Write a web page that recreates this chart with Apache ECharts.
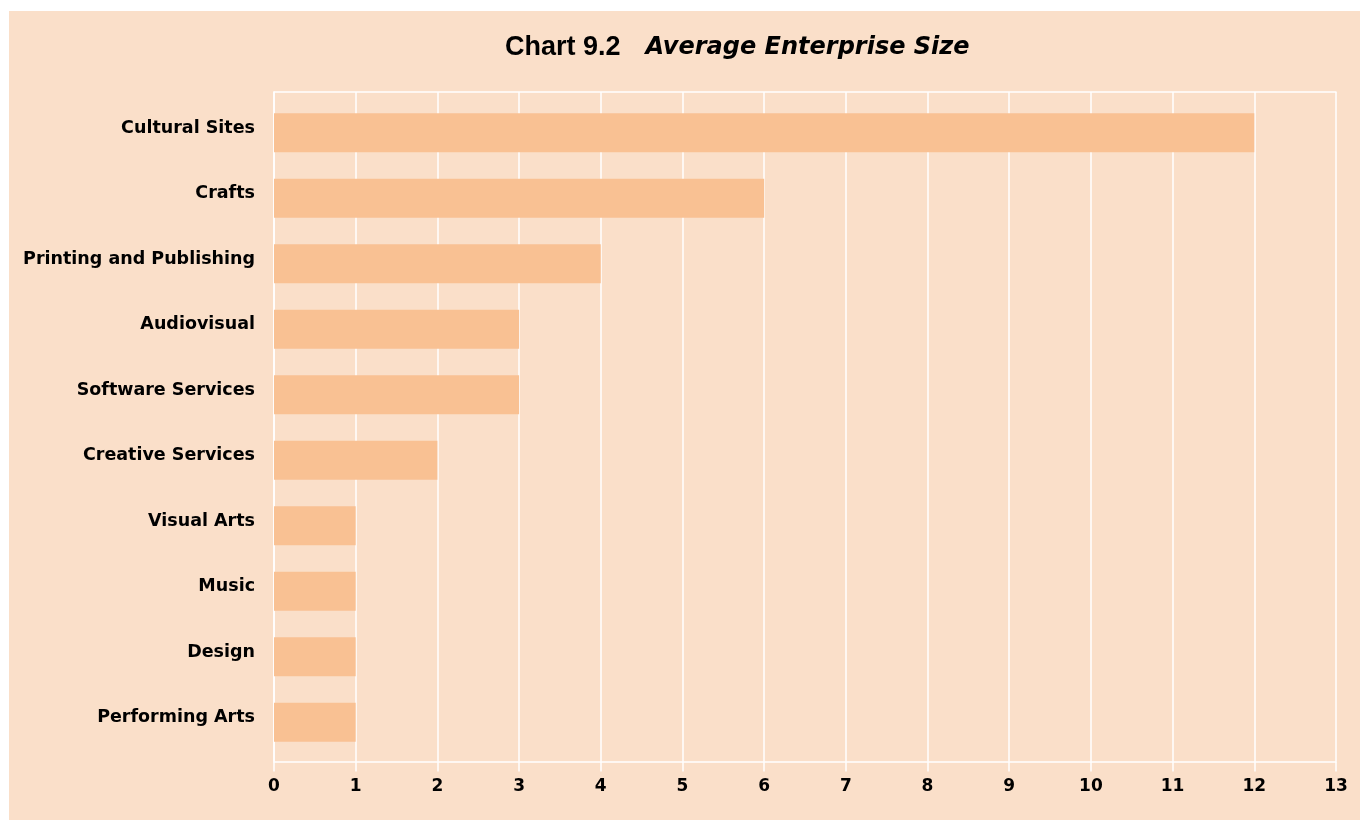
<!DOCTYPE html>
<html>
<head>
<meta charset="utf-8">
<script src="https://cdn.jsdelivr.net/npm/echarts@6/dist/echarts.min.js"></script>
<style>
  html, body { margin: 0; padding: 0; background: #ffffff; }
  #chart { width: 1360px; height: 820px; }
</style>
</head>
<body>
<div id="chart"></div>
<script>
// Sectors, top to bottom
const categories = [
  'Cultural Sites',
  'Crafts',
  'Printing and Publishing',
  'Audiovisual',
  'Software Services',
  'Creative Services',
  'Visual Arts',
  'Music',
  'Design',
  'Performing Arts'
];
// Average enterprise size per sector
const avgSize = [12, 6, 4, 3, 3, 2, 1, 1, 1, 1];
// Horizontal axis range
const xMin = 0;
const xMax = 13;
const xStep = 1;

const PANEL = '#FADFC9';
const BAR = '#F9C193';
const LINE = '#FFFFFF';
const SANS = '"Liberation Sans", Arial, sans-serif';
const WIDE = '"DejaVu Sans", sans-serif';

const chart = echarts.init(document.getElementById('chart'), null, { renderer: 'canvas' });

chart.setOption({
  backgroundColor: '#ffffff',
  animation: false,
  graphic: [
    {
      type: 'rect', z: -10, silent: true,
      shape: { x: 9, y: 11, width: 1360, height: 820 },
      style: { fill: PANEL }
    }
  ],
  title: {
    text: '{a|Chart 9.2}{b|Average Enterprise Size}',
    left: 500,
    top: 29,
    textStyle: {
      rich: {
        a: { fontFamily: SANS, fontSize: 27, fontWeight: 'bold', color: '#000', padding: [0, 25, 0, 0] },
        b: { fontFamily: WIDE, fontSize: 24, fontWeight: 'bold', fontStyle: 'italic', color: '#000' }
      }
    }
  },
  grid: [
    // bars
    { left: 274, right: 24, top: 100, height: 655 },
    // frame, grid lines and value scale
    { left: 274, right: 24, top: 92, height: 669.5 }
  ],
  xAxis: [
    {
      gridIndex: 0, type: 'value', min: xMin, max: xMax, interval: xStep,
      show: false
    },
    {
      gridIndex: 1, type: 'value', min: xMin, max: xMax, interval: xStep,
      position: 'bottom',
      axisLine: { show: true, lineStyle: { color: LINE, width: 1.5 } },
      axisTick: { show: true, length: 10, lineStyle: { color: LINE, width: 1.5 } },
      splitLine: { show: true, lineStyle: { color: LINE, width: 1.5 } },
      axisLabel: {
        margin: 17, color: '#000', fontFamily: WIDE, fontSize: 17, fontWeight: 'bold'
      }
    },
    {
      gridIndex: 1, type: 'value', min: xMin, max: xMax, interval: xStep,
      position: 'top',
      axisLine: { show: true, lineStyle: { color: LINE, width: 1.5 } },
      axisTick: { show: false },
      splitLine: { show: false },
      axisLabel: { show: false }
    }
  ],
  yAxis: [
    {
      gridIndex: 0, type: 'category', data: categories, inverse: true,
      axisLine: { show: false },
      axisTick: { show: false },
      splitLine: { show: false },
      axisLabel: {
        margin: 19, color: '#000', fontFamily: WIDE, fontSize: 17.5, fontWeight: 'bold',
        verticalAlign: 'bottom', lineHeight: 9
      }
    },
    {
      gridIndex: 1, type: 'value', min: 0, max: 1,
      axisLine: { show: true, lineStyle: { color: LINE, width: 1.5 } },
      axisTick: { show: false },
      splitLine: { show: false },
      axisLabel: { show: false }
    }
  ],
  series: [
    {
      type: 'bar',
      xAxisIndex: 0,
      yAxisIndex: 0,
      data: avgSize,
      barWidth: 39,
      itemStyle: { color: BAR },
      silent: true
    }
  ]
});
</script>
</body>
</html>
